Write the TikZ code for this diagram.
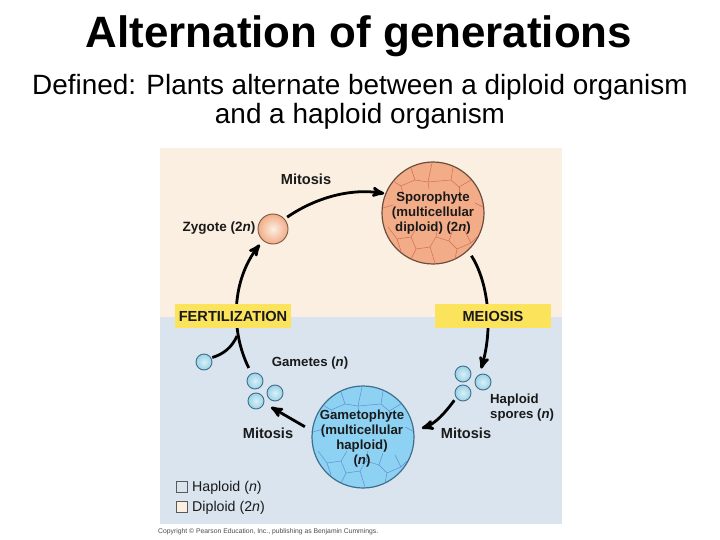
\documentclass[tikz,border=0pt]{standalone}
\usepackage{fontspec}
\usepackage{xcolor}
\setmainfont{Liberation Sans}
\usetikzlibrary{arrows}

\definecolor{peachbg}{HTML}{FBEFE2}
\definecolor{bluebg}{HTML}{D9E4EE}
\definecolor{labelyellow}{HTML}{FBE45C}
\definecolor{sporofill}{HTML}{F3AC88}
\definecolor{gametofill}{HTML}{8ED2F3}
\definecolor{inktext}{HTML}{1A1A1A}
\definecolor{spherein}{HTML}{D8F0F7}
\definecolor{sphereout}{HTML}{9CD2E6}
\definecolor{sphereline}{HTML}{3F6F8A}

\newcommand{\cellwalls}[2]{%
  \begin{scope}[shift={(#1.center)}, draw=#2, line width=0.5pt]
    \draw (-22,-45) -- (-18,-33) -- (-5,-31) -- (-1,-50);
    \draw (-5,-31) -- (-4,-24);
    \draw (-18,-33) -- (-32,-27) -- (-40,-32);
    \draw (-32,-27) -- (-30,-20);
    \draw (-5,-31) -- (18,-33) -- (20,-46);
    \draw (18,-33) -- (26,-26) -- (38,-33);
    \draw (26,-26) -- (26,-19);
    \draw (-45,14) -- (-36,26) -- (-22,24) -- (-17,36) -- (-22,46);
    \draw (-36,26) -- (-32,38);
    \draw (-22,24) -- (-16,14);
    \draw (-17,36) -- (-3,34) -- (2,50);
    \draw (-3,34) -- (3,24) -- (5,14);
    \draw (3,24) -- (16,28) -- (24,36) -- (22,46);
    \draw (16,28) -- (20,16);
    \draw (24,36) -- (38,30) -- (32,18);
    \draw (38,30) -- (44,24);
    \draw (-50,-5) -- (-40,-8);
    \draw (50,-6) -- (42,-10);
  \end{scope}}

\tikzset{
  stagelabel/.style={font=\fontsize{14.6}{16}\selectfont\bfseries, text=inktext, align=center, inner sep=0pt},
  celltext/.style={font=\fontsize{13.2}{15}\selectfont\bfseries, text=inktext, align=center, inner sep=0pt},
  sporocell/.style={circle, draw=black!55!sporofill, line width=1.2pt, fill=sporofill, minimum size=102pt, inner sep=0pt},
  gametocell/.style={circle, draw=sphereline, line width=1.2pt, fill=gametofill, minimum size=102pt, inner sep=0pt},
  zygotecell/.style={circle, draw=black!50!sporofill, line width=0.9pt, inner color=peachbg, outer color=sporofill, minimum size=30pt, inner sep=0pt},
  haploidcell/.style={circle, draw=sphereline, line width=0.9pt, inner color=spherein, outer color=sphereout, minimum size=16pt, inner sep=0pt},
  phasebar/.style={rectangle, fill=labelyellow, stagelabel, minimum width=116pt, minimum height=24pt},
  legendbox/.style={rectangle, draw=black!65, line width=0.8pt, minimum size=11pt, inner sep=0pt},
  legendtext/.style={font=\fontsize{14.2}{16}\selectfont, text=inktext, anchor=west, inner sep=0pt},
  cyclearrow/.style={->, >=stealth', line width=2.8pt, black}
}

\begin{document}
\begin{tikzpicture}[x=1pt, y=-1pt]
    \useasboundingbox (0,0) rectangle (720,540);
    \fill[white] (0,0) rectangle (720,540);
    \fill[peachbg] (160,148) rectangle (562,317);
    \fill[bluebg] (160,317) rectangle (562,524);

    % Titles
    \node[font=\fontsize{43.9}{48}\selectfont\bfseries, inner sep=0pt] (title) at (359,36) {Alternation of generations};
    \node[font=\fontsize{27.9}{29}\selectfont, align=center, inner sep=0pt] (subtitle) at (360,102) {Defined: Plants alternate between a diploid organism\\and a haploid organism};

    % Nodes
    \node[sporocell] (sporophyte) at (433,213) {};
    \cellwalls{sporophyte}{red!25!sporofill!85!black}
    \node[celltext] (sporophyteText) at (433,213) {Sporophyte\\(multicellular\\diploid) (2\textit{n})};

    \node[gametocell] (gametophyte) at (363,437) {};
    \cellwalls{gametophyte}{blue!20!gametofill!85!black}
    \node[celltext] (gametophyteText) at (362,439) {Gametophyte\\(multicellular\\haploid)\\(\textit{n})};

    \node[zygotecell] (zygote) at (273,229) {};

    \node[haploidcell] (gameteSingle) at (204,362) {};
    \node[haploidcell] (gameteA) at (255,381) {};
    \node[haploidcell] (gameteB) at (275,393) {};
    \node[haploidcell] (gameteC) at (256,401) {};

    \node[haploidcell] (sporeA) at (463,374) {};
    \node[haploidcell] (sporeB) at (483,382) {};
    \node[haploidcell] (sporeC) at (463,393) {};

    \coordinate (gameteJoin) at (237,336);

    % Edges
    \draw[cyclearrow, shorten <=3pt, shorten >=1pt] (zygote.41) .. controls (315,198) and (350,188) .. (sporophyte.158);
    \draw[cyclearrow, shorten <=6pt, shorten >=6pt] (sporophyte.-47) .. controls (487,280) and (494,325) .. (sporeB.115);
    \draw[cyclearrow, shorten <=3pt, shorten >=8pt] (sporeC.215) .. controls (445,413) and (435,424) .. (gametophyte.7);
    \draw[cyclearrow, shorten <=8pt, shorten >=8pt] (gametophyte.173) -- (gameteC.-15);
    \draw[cyclearrow, shorten <=6pt, shorten >=5pt] (gameteA.115) .. controls (230,330) and (232,280) .. (zygote.229);
    \draw[line width=2.8pt, shorten <=1pt] (gameteSingle.30) .. controls (224,354) and (232,347) .. (gameteJoin);

    % Labels
    \node[phasebar] (fertilization) at (233,316) {FERTILIZATION};
    \node[phasebar] (meiosis) at (493,316) {MEIOSIS};

    \node[stagelabel] (mitosisTop) at (306,179) {Mitosis};
    \node[stagelabel] (mitosisLeft) at (268,433) {Mitosis};
    \node[stagelabel] (mitosisRight) at (466,433) {Mitosis};
    \node[celltext, font=\fontsize{13.5}{15}\selectfont\bfseries] (zygoteText) at (219,228) {Zygote (2\textit{n})};
    \node[celltext] (gameteText) at (310,363) {Gametes (\textit{n})};
    \node[celltext, align=left, anchor=west] (sporeText) at (490,408) {Haploid\\spores (\textit{n})};

    % Legend
    \node[legendbox, fill=bluebg] (haploidBox) at (182,487) {};
    \node[legendbox, fill=peachbg] (diploidBox) at (182,507) {};
    \node[legendtext] (haploidText) at (192,487.5) {Haploid (\textit{n})};
    \node[legendtext] (diploidText) at (192,507.5) {Diploid (2\textit{n})};

    \node[font=\fontsize{6.8}{8}\selectfont, text=black!70, anchor=west, inner sep=0pt] (copyright) at (158,532) {Copyright © Pearson Education, Inc., publishing as Benjamin Cummings.};
\end{tikzpicture}
\end{document}
